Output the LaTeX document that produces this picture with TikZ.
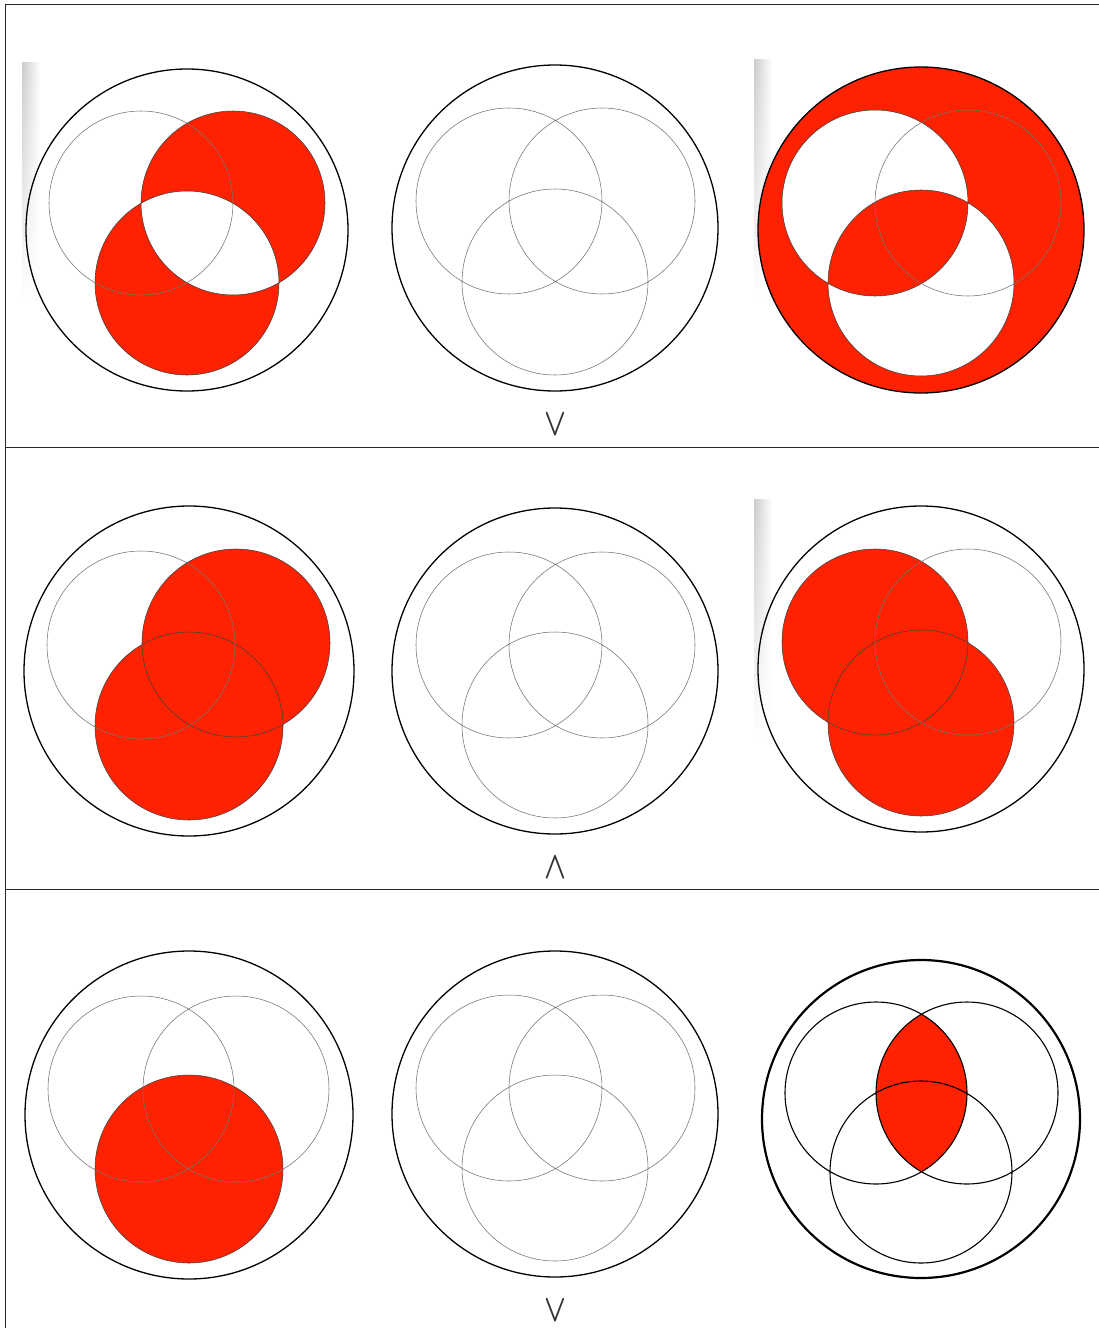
\documentclass[tikz,border=0pt]{standalone}
\usetikzlibrary{shadings,fadings}
\definecolor{vred}{RGB}{255,34,0}
\tikzfading[name=stripfade, top color=transparent!0, bottom color=transparent!100]
\newcommand{\symbig}[1]{\scalebox{1.15}[1.55]{\boldmath$#1$}}
\begin{document}
\begin{tikzpicture}[x=1pt,y=-1pt,
  outer/.style={draw=black, line width=1.3pt},
  innerg/.style={draw=black!55, line width=0.55pt},
  innerd/.style={draw=black!75, line width=0.55pt},
  redfill/.style={fill=vred},
  frame/.style={draw=black!85, line width=1pt},
  shadowstrip/.style={left color=black!20, right color=white, draw=none, path fading=stripfade},
  sym/.style={inner sep=0pt, text=black!80, font=\fontsize{24.88}{26}\selectfont}]
\fill[white] (0,0) rectangle (1099,1328);
\useasboundingbox (0,0) rectangle (1099,1328);
% frame
\draw[frame] (1099,4) -- (5,4) -- (5,1328);
\draw[frame] (5,447) -- (1099,447);
\draw[frame] (5,889) -- (1099,889);
% shadows
\shade[shadowstrip] (22,63) rectangle (40,300);
\shade[shadowstrip] (754,60) rectangle (772,297);
\shade[shadowstrip] (754,500) rectangle (772,737);

% ---------- Row 1 ----------
% left: B xor C
\fill[redfill, even odd rule] (233,203) circle (92) (187,283) circle (92);
\draw[innerd] (233,203) circle (92) (187,283) circle (92);
\draw[innerg] (141,203) circle (92);
\draw[outer] (187,230) circle (161);
% middle
\draw[innerg] (509,201) circle (93) (602,201) circle (93) (555,282) circle (93);
\draw[outer] (555,228) circle (163);
% right: outer minus (A xor C)
\fill[redfill, even odd rule] (921,230) circle (163) (875,203) circle (93) (921,283) circle (93);
\draw[innerd] (875,203) circle (93) (921,283) circle (93);
\draw[innerg] (968,203) circle (93);
\draw[outer] (921,230) circle (163);
\node[sym] (or1) at (555,425) {\symbig{\vee}};

% ---------- Row 2 ----------
\fill[redfill] (236,643) circle (94) (189,726) circle (94);
\draw[innerd] (236,643) circle (94) (189,726) circle (94);
\draw[innerg] (141,645) circle (94);
\draw[outer] (189,671) circle (165);
% middle
\draw[innerg] (509,645) circle (93) (602,645) circle (93) (555,725) circle (93);
\draw[outer] (555,671) circle (163);
% right: A or C
\fill[redfill] (875,642) circle (93) (921,723) circle (93);
\draw[innerd] (875,642) circle (93) (921,723) circle (93);
\draw[innerg] (968,642) circle (93);
\draw[outer] (921,669) circle (163);
\node[sym] (and2) at (555,868) {\symbig{\wedge}};

% ---------- Row 3 ----------
\fill[redfill] (189,1169) circle (94);
\draw[innerd] (189,1169) circle (94);
\draw[innerg] (141,1089) circle (93) (236,1089) circle (93);
\draw[outer] (189,1115) circle (164);
% middle
\draw[innerg] (509,1088) circle (93) (602,1088) circle (93) (555,1168) circle (93);
\draw[outer] (555,1114) circle (163);
% right: A and B
\begin{scope}
  \clip (876,1093) circle (91);
  \fill[redfill] (967,1093) circle (91);
\end{scope}
\draw[black, line width=1.1pt] (876,1093) circle (91) (967,1093) circle (91) (921,1172) circle (91);
\draw[black, line width=2.2pt] (921,1119) circle (159);
\node[sym] (or3) at (555,1311) {\symbig{\vee}};
\end{tikzpicture}
\end{document}
